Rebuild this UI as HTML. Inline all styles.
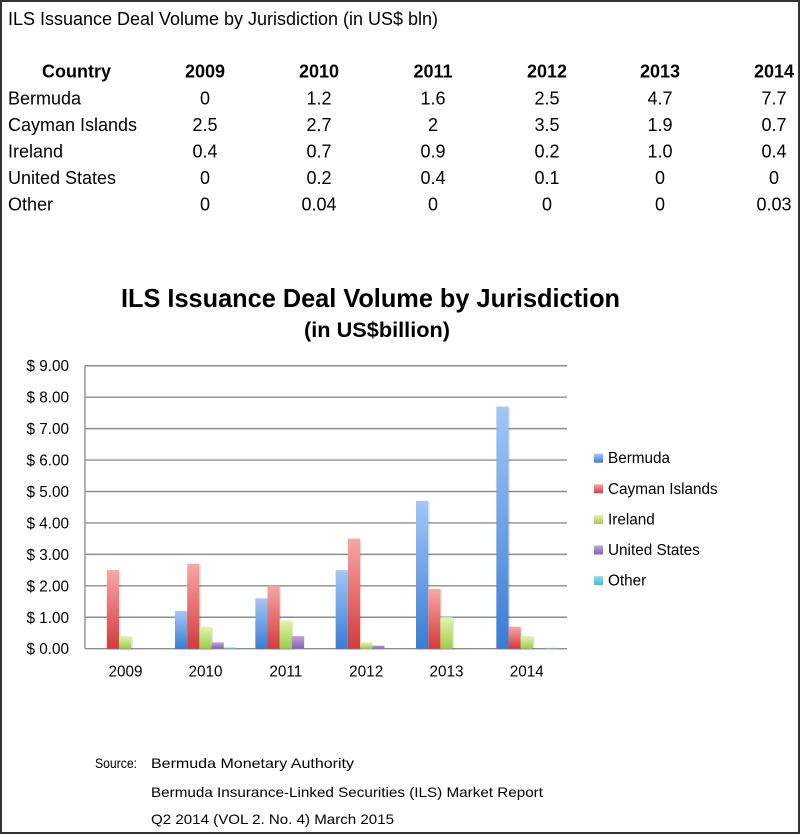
<!DOCTYPE html>
<html>
<head>
<meta charset="utf-8">
<style>
  html,body{margin:0;padding:0;background:#fff;}
  svg{display:block;}
  text{font-family:"Liberation Sans",Arial,sans-serif;fill:#000;}
</style>
</head>
<body>
<svg width="800" height="834" viewBox="0 0 800 834" xmlns="http://www.w3.org/2000/svg">
  <defs>
    <linearGradient id="gB" x1="0" y1="0" x2="0" y2="1">
      <stop offset="0" stop-color="#a2c7f8"/>
      <stop offset="1" stop-color="#3a7cd3"/>
    </linearGradient>
    <linearGradient id="gC" x1="0" y1="0" x2="0" y2="1">
      <stop offset="0" stop-color="#f9a6a6"/>
      <stop offset="1" stop-color="#d23b3b"/>
    </linearGradient>
    <linearGradient id="gI" x1="0" y1="0" x2="0" y2="1">
      <stop offset="0" stop-color="#e2f6ab"/>
      <stop offset="1" stop-color="#9ccb4e"/>
    </linearGradient>
    <linearGradient id="gU" x1="0" y1="0" x2="0" y2="1">
      <stop offset="0" stop-color="#bba5dc"/>
      <stop offset="1" stop-color="#8462b2"/>
    </linearGradient>
    <linearGradient id="gO" x1="0" y1="0" x2="0" y2="1">
      <stop offset="0" stop-color="#8fe0f2"/>
      <stop offset="1" stop-color="#3bbcd8"/>
    </linearGradient>
  </defs>

  <rect x="0" y="0" width="800" height="834" fill="#fff"/>
  <rect x="1" y="1" width="798" height="832" fill="none" stroke="#333" stroke-width="2"/>

  <!-- Table -->
  <text x="8" y="25" font-size="18" textLength="430" lengthAdjust="spacingAndGlyphs">ILS Issuance Deal Volume by Jurisdiction (in US$ bln)</text>

  <g font-size="18" font-weight="bold" text-anchor="middle">
    <text x="76.5" y="77.5" style="font-weight:bold">Country</text>
    <text x="205" y="77.5" style="font-weight:bold">2009</text>
    <text x="319" y="77.5" style="font-weight:bold">2010</text>
    <text x="433" y="77.5" style="font-weight:bold">2011</text>
    <text x="547" y="77.5" style="font-weight:bold">2012</text>
    <text x="660" y="77.5" style="font-weight:bold">2013</text>
    <text x="774" y="77.5" style="font-weight:bold">2014</text>
  </g>

  <g font-size="18">
    <text x="8" y="104.3">Bermuda</text>
    <text x="8" y="131">Cayman Islands</text>
    <text x="8" y="157.5">Ireland</text>
    <text x="8" y="184">United States</text>
    <text x="8" y="210.7">Other</text>
  </g>
  <g font-size="18" text-anchor="middle">
    <text x="205" y="104.3">0</text><text x="319" y="104.3">1.2</text><text x="433" y="104.3">1.6</text><text x="547" y="104.3">2.5</text><text x="660" y="104.3">4.7</text><text x="774" y="104.3">7.7</text>
    <text x="205" y="131">2.5</text><text x="319" y="131">2.7</text><text x="433" y="131">2</text><text x="547" y="131">3.5</text><text x="660" y="131">1.9</text><text x="774" y="131">0.7</text>
    <text x="205" y="157.5">0.4</text><text x="319" y="157.5">0.7</text><text x="433" y="157.5">0.9</text><text x="547" y="157.5">0.2</text><text x="660" y="157.5">1.0</text><text x="774" y="157.5">0.4</text>
    <text x="205" y="184">0</text><text x="319" y="184">0.2</text><text x="433" y="184">0.4</text><text x="547" y="184">0.1</text><text x="660" y="184">0</text><text x="774" y="184">0</text>
    <text x="205" y="210.7">0</text><text x="319" y="210.7">0.04</text><text x="433" y="210.7">0</text><text x="547" y="210.7">0</text><text x="660" y="210.7">0</text><text x="774" y="210.7">0.03</text>
  </g>

  <!-- Chart title -->
  <text x="121" y="307" font-size="26" font-weight="bold" textLength="499" lengthAdjust="spacingAndGlyphs" style="font-weight:bold">ILS Issuance Deal Volume by Jurisdiction</text>
  <text x="304" y="337" font-size="21" font-weight="bold" textLength="146" lengthAdjust="spacingAndGlyphs" style="font-weight:bold">(in US$billion)</text>

  <!-- Gridlines -->
  <g stroke="#8e8e8e" stroke-width="1.4">
    <line x1="85" y1="365.74" x2="567" y2="365.74"/>
    <line x1="85" y1="397.18" x2="567" y2="397.18"/>
    <line x1="85" y1="428.62" x2="567" y2="428.62"/>
    <line x1="85" y1="460.06" x2="567" y2="460.06"/>
    <line x1="85" y1="491.5" x2="567" y2="491.5"/>
    <line x1="85" y1="522.94" x2="567" y2="522.94"/>
    <line x1="85" y1="554.38" x2="567" y2="554.38"/>
    <line x1="85" y1="585.82" x2="567" y2="585.82"/>
    <line x1="85" y1="617.26" x2="567" y2="617.26"/>
    <line x1="85" y1="648.7" x2="567" y2="648.7"/>
    <line x1="85" y1="365.74" x2="85" y2="648.7"/>
  </g>

  <!-- Y labels -->
  <g font-size="15.3" text-anchor="end">
    <text x="69" y="371.2">$ 9.00</text>
    <text x="69" y="402.7">$ 8.00</text>
    <text x="69" y="434.1">$ 7.00</text>
    <text x="69" y="465.6">$ 6.00</text>
    <text x="69" y="497">$ 5.00</text>
    <text x="69" y="528.4">$ 4.00</text>
    <text x="69" y="559.9">$ 3.00</text>
    <text x="69" y="591.3">$ 2.00</text>
    <text x="69" y="622.8">$ 1.00</text>
    <text x="69" y="654.2">$ 0.00</text>
  </g>

  <!-- Bar shadows -->
  <g fill="#000" opacity="0.1">
    <rect x="108.4" y="571.1" width="12.2" height="78.6"/>
    <rect x="120.6" y="637.1" width="12.2" height="12.6"/>
    <rect x="176.5" y="612" width="12.2" height="37.7"/>
    <rect x="188.7" y="564.8" width="12.2" height="84.9"/>
    <rect x="200.9" y="627.7" width="12.2" height="22"/>
    <rect x="256.8" y="599.4" width="12.2" height="50.3"/>
    <rect x="269" y="586.8" width="12.2" height="62.9"/>
    <rect x="281.2" y="621.4" width="12.2" height="28.3"/>
    <rect x="337.2" y="571.1" width="12.2" height="78.6"/>
    <rect x="349.4" y="539.7" width="12.2" height="110"/>
    <rect x="417.5" y="501.9" width="12.2" height="147.8"/>
    <rect x="429.7" y="590" width="12.2" height="59.7"/>
    <rect x="441.9" y="618.3" width="12.2" height="31.4"/>
    <rect x="497.8" y="407.6" width="12.2" height="242.1"/>
    <rect x="510" y="627.7" width="12.2" height="22"/>
    <rect x="522.2" y="637.1" width="12.2" height="12.6"/>
  </g>

  <!-- Bars -->
  <!-- 2009 -->
  <rect x="106.87" y="570.1" width="12.2" height="78.6" fill="url(#gC)"/>
  <rect x="119.07" y="636.12" width="12.2" height="12.58" fill="url(#gI)"/>
  <!-- 2010 -->
  <rect x="175" y="610.97" width="12.2" height="37.73" fill="url(#gB)"/>
  <rect x="187.2" y="563.81" width="12.2" height="84.89" fill="url(#gC)"/>
  <rect x="199.4" y="626.69" width="12.2" height="22.01" fill="url(#gI)"/>
  <rect x="211.6" y="642.41" width="12.2" height="6.29" fill="url(#gU)"/>
  <rect x="223.8" y="647.44" width="12.2" height="1.26" fill="url(#gO)"/>
  <!-- 2011 -->
  <rect x="255.33" y="598.4" width="12.2" height="50.3" fill="url(#gB)"/>
  <rect x="267.53" y="585.82" width="12.2" height="62.88" fill="url(#gC)"/>
  <rect x="279.73" y="620.4" width="12.2" height="28.3" fill="url(#gI)"/>
  <rect x="291.93" y="636.12" width="12.2" height="12.58" fill="url(#gU)"/>
  <!-- 2012 -->
  <rect x="335.67" y="570.1" width="12.2" height="78.6" fill="url(#gB)"/>
  <rect x="347.87" y="538.66" width="12.2" height="110.04" fill="url(#gC)"/>
  <rect x="360.07" y="642.41" width="12.2" height="6.29" fill="url(#gI)"/>
  <rect x="372.27" y="645.56" width="12.2" height="3.14" fill="url(#gU)"/>
  <!-- 2013 -->
  <rect x="416" y="500.93" width="12.2" height="147.77" fill="url(#gB)"/>
  <rect x="428.2" y="588.96" width="12.2" height="59.74" fill="url(#gC)"/>
  <rect x="440.4" y="617.26" width="12.2" height="31.44" fill="url(#gI)"/>
  <!-- 2014 -->
  <rect x="496.33" y="406.61" width="12.2" height="242.09" fill="url(#gB)"/>
  <rect x="508.53" y="626.69" width="12.2" height="22.01" fill="url(#gC)"/>
  <rect x="520.73" y="636.12" width="12.2" height="12.58" fill="url(#gI)"/>
  <rect x="545.13" y="647.76" width="12.2" height="0.94" fill="url(#gO)"/>

  <!-- X labels -->
  <g font-size="15.3" text-anchor="middle">
    <text x="125.5" y="676.5">2009</text>
    <text x="205.5" y="676.5">2010</text>
    <text x="285.8" y="676.5">2011</text>
    <text x="366.2" y="676.5">2012</text>
    <text x="446.5" y="676.5">2013</text>
    <text x="526.8" y="676.5">2014</text>
  </g>

  <!-- Legend -->
  <rect x="594" y="453.7" width="9" height="9" fill="url(#gB)"/>
  <rect x="594" y="484.3" width="9" height="9" fill="url(#gC)"/>
  <rect x="594" y="514.9" width="9" height="9" fill="url(#gI)"/>
  <rect x="594" y="545.5" width="9" height="9" fill="url(#gU)"/>
  <rect x="594" y="576.1" width="9" height="9" fill="url(#gO)"/>
  <g font-size="15.3">
    <text x="608" y="463.2">Bermuda</text>
    <text x="608" y="493.8">Cayman Islands</text>
    <text x="608" y="524.4">Ireland</text>
    <text x="608" y="555">United States</text>
    <text x="608" y="585.6">Other</text>
  </g>

  <!-- Source -->
  <g font-size="14">
    <text x="95" y="768" textLength="42" lengthAdjust="spacingAndGlyphs">Source:</text>
    <text x="151" y="768" textLength="203" lengthAdjust="spacingAndGlyphs">Bermuda Monetary Authority</text>
    <text x="151" y="797" textLength="392" lengthAdjust="spacingAndGlyphs">Bermuda Insurance-Linked Securities (ILS) Market Report</text>
    <text x="151" y="824" textLength="243" lengthAdjust="spacingAndGlyphs">Q2 2014 (VOL 2. No. 4) March 2015</text>
  </g>
</svg>
</body>
</html>
